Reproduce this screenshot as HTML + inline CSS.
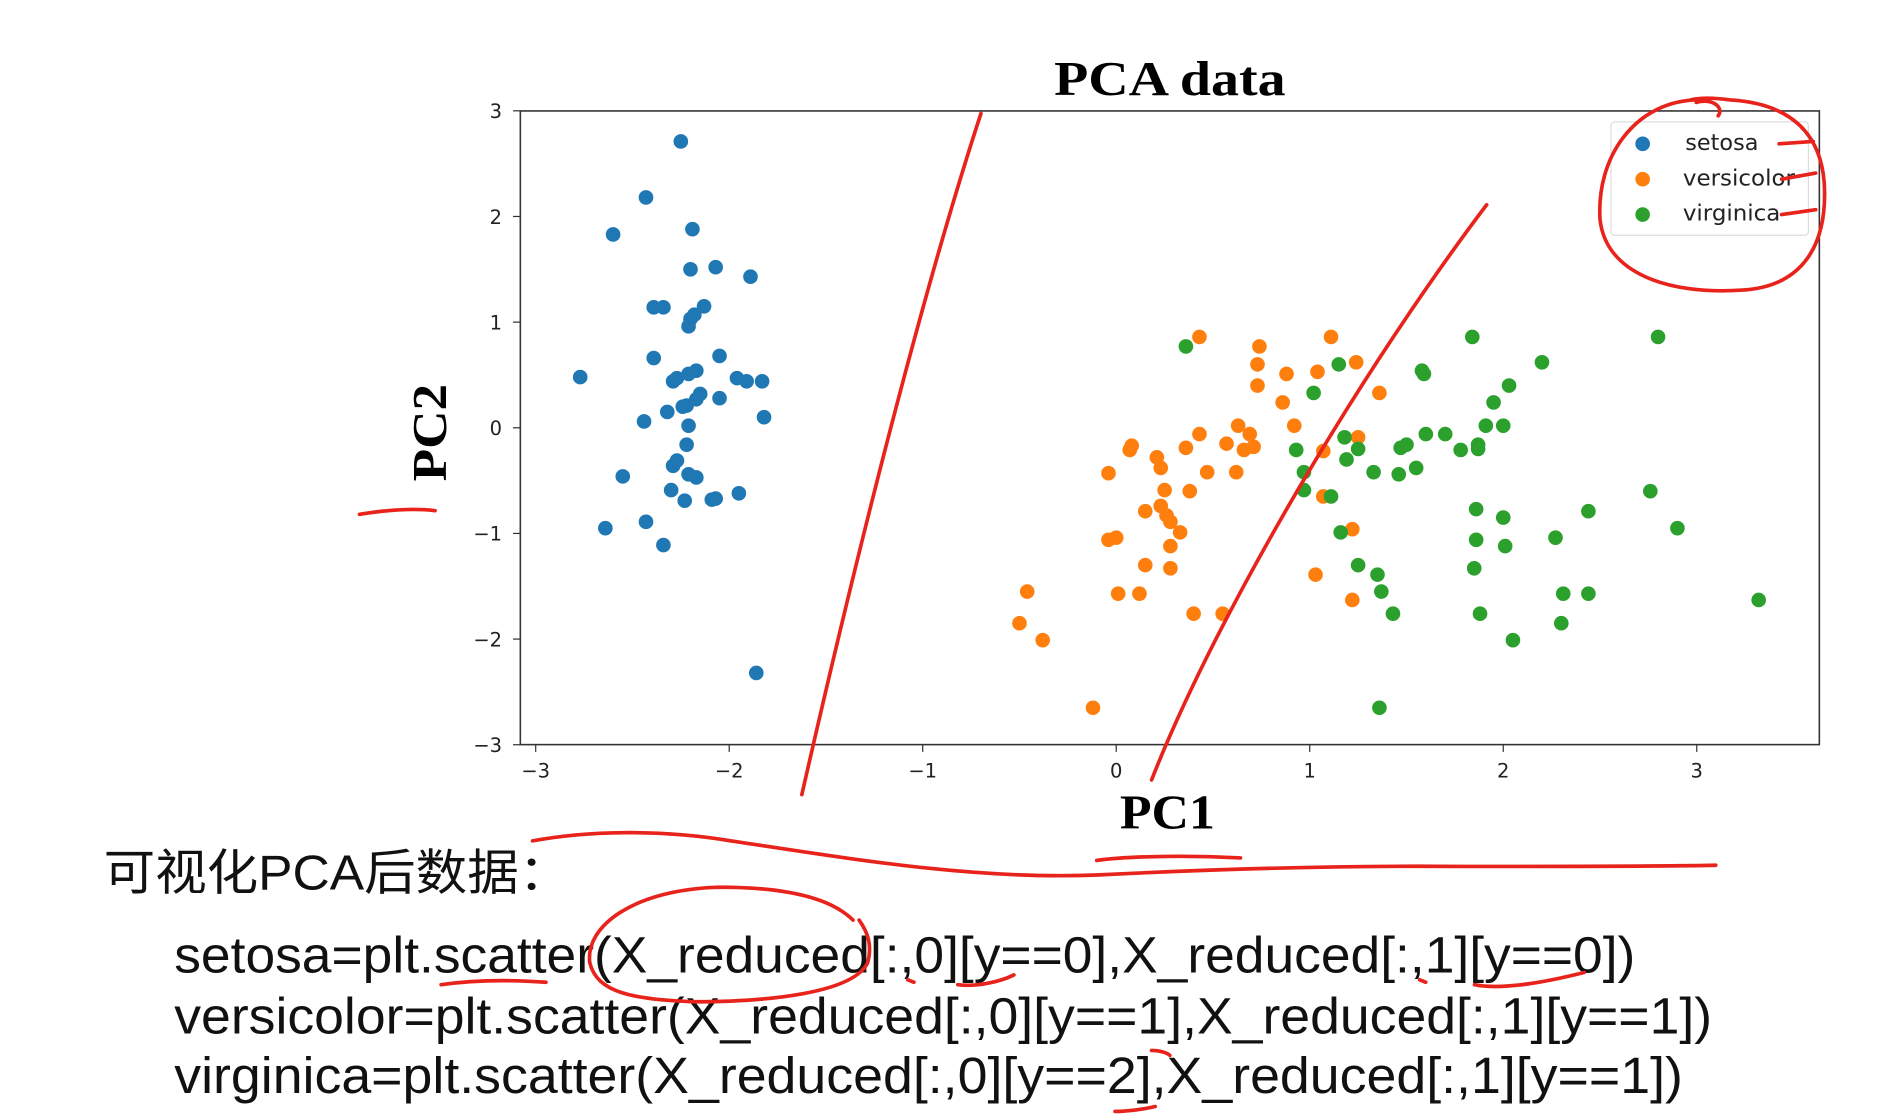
<!DOCTYPE html>
<html><head><meta charset="utf-8"><style>
html,body{margin:0;padding:0;background:#fff;}
svg{display:block;}
</style></head><body>
<svg id="chart" width="1901" height="1120" viewBox="0 0 1560 919" xmlns="http://www.w3.org/2000/svg">
<rect x="0" y="0" width="1560" height="919" fill="#fff"/>
<text x="960" y="78" text-anchor="middle" font-family="Liberation Serif, serif" font-weight="bold" font-size="40" textLength="190" lengthAdjust="spacingAndGlyphs">PCA data</text>
<g id="ticks"></g>
<g id="points"></g>
<rect x="427" y="91" width="1066" height="520" fill="none" stroke="#333" stroke-width="1.3"/>
<text x="958" y="680" text-anchor="middle" font-family="Liberation Serif, serif" font-weight="bold" font-size="40" textLength="78" lengthAdjust="spacingAndGlyphs">PC1</text>
<text transform="translate(366,355) rotate(-90)" text-anchor="middle" font-family="Liberation Serif, serif" font-weight="bold" font-size="40" textLength="80" lengthAdjust="spacingAndGlyphs">PC2</text>
<g>
<rect x="1322" y="100" width="162" height="93" rx="3" fill="#fff" stroke="#ddd" stroke-width="1"/>
<circle cx="1348" cy="118" r="6" fill="#1f77b4"/>
<circle cx="1348" cy="147" r="6" fill="#ff7f0e"/>
<circle cx="1348" cy="176" r="6" fill="#2ca02c"/>
<text x="1383" y="123" font-family="DejaVu Sans, sans-serif" font-size="18" fill="#222" textLength="60" lengthAdjust="spacingAndGlyphs">setosa</text>
<text x="1381" y="152" font-family="DejaVu Sans, sans-serif" font-size="18" fill="#222" textLength="92" lengthAdjust="spacingAndGlyphs">versicolor</text>
<text x="1381" y="181" font-family="DejaVu Sans, sans-serif" font-size="18" fill="#222" textLength="80" lengthAdjust="spacingAndGlyphs">virginica</text>
</g>
<text x="85" y="730" font-family="Liberation Sans, Noto Sans CJK SC, sans-serif" font-size="40" fill="#111" textLength="383" lengthAdjust="spacingAndGlyphs">可视化PCA后数据：</text>
<text x="143" y="798" font-family="Liberation Sans, sans-serif" font-size="42" fill="#111" textLength="1199" lengthAdjust="spacingAndGlyphs">setosa=plt.scatter(X_reduced[:,0][y==0],X_reduced[:,1][y==0])</text>
<text x="143" y="848" font-family="Liberation Sans, sans-serif" font-size="42" fill="#111" textLength="1262" lengthAdjust="spacingAndGlyphs">versicolor=plt.scatter(X_reduced[:,0][y==1],X_reduced[:,1][y==1])</text>
<text x="143" y="897" font-family="Liberation Sans, sans-serif" font-size="42" fill="#111" textLength="1238" lengthAdjust="spacingAndGlyphs">virginica=plt.scatter(X_reduced[:,0][y==2],X_reduced[:,1][y==1])</text>
<g fill="none" stroke="#e8231b" stroke-width="3" stroke-linecap="round">
<path d="M805,93 C770,200 720,380 658,652"/>
<path d="M1220,168 C1120,300 1000,500 945,640"/>
<path d="M1390,82 C1340,85 1310,130 1313,180 C1318,225 1370,242 1430,238 C1480,235 1500,200 1497,150 C1494,110 1470,85 1420,82 C1405,80 1395,80 1387,82"/>
<path d="M1410,95 C1415,88 1405,80 1392,84"/>
<path d="M1460,118 L1488,116 M1462,147 L1490,142 M1462,176 L1490,172"/>
<path d="M295,422 C320,418 340,417 357,419"/>
<path d="M437,690 C480,682 540,680 600,690 C700,705 800,722 900,718 C1000,713 1100,710 1200,711 C1300,711 1360,711 1408,710"/>
<path d="M900,706 C930,702 980,702 1018,704"/>
<path d="M700,755 C680,735 640,728 590,728 C520,730 480,760 484,790 C490,815 520,820 570,822 C630,822 700,815 712,790 C716,775 712,765 705,755"/>
<path d="M362,808 C390,804 420,804 448,806"/>
<path d="M745,804 L750,806 M786,808 C800,810 820,806 832,800"/>
<path d="M1165,804 L1170,806 M1210,808 C1230,812 1260,808 1300,798"/>
<path d="M945,862 C952,862 958,864 960,866 M915,912 C925,912 940,910 948,908"/>
</g>
</svg>
<script>
// chart data (PC1, PC2 values)
const xTicks = [-3,-2,-1,0,1,2,3];
const yTicks = [3,2,1,0,-1,-2,-3];
const tickLabels = ['\u22123','\u22122','\u22121','0','1','2','3'];
const seriesNames = ['setosa','versicolor','virginica'];
const setosaX = [-2.25,-2.43,-2.60,-2.19,-2.20,-2.07,-1.89,-2.39,-2.34,-2.13,-2.20,-2.18,-2.21,-2.39,-2.05,-2.77,-2.17,-2.21,-2.27,-2.29,-1.96,-1.91,-1.83,-2.15,-2.17,-2.22,-2.24,-2.05,-2.32,-1.82,-2.21,-2.44,-2.22,-2.27,-2.29,-2.55,-2.21,-2.17,-2.30,-2.23,-2.07,-2.09,-1.95,-2.43,-2.64,-2.34,-1.86];
const setosaY = [2.71,2.18,1.83,1.88,1.50,1.52,1.43,1.14,1.14,1.15,1.03,1.07,0.96,0.66,0.68,0.48,0.54,0.51,0.47,0.44,0.47,0.44,0.44,0.32,0.27,0.21,0.20,0.28,0.15,0.10,0.02,0.06,-0.16,-0.31,-0.36,-0.46,-0.44,-0.47,-0.59,-0.69,-0.67,-0.68,-0.62,-0.89,-0.95,-1.11,-2.32];
const versicolorX = [0.43,0.74,1.11,0.73,1.24,0.88,1.04,0.73,1.36,0.86,0.63,0.92,0.43,0.69,1.25,0.08,0.07,0.36,0.57,0.66,0.71,1.07,0.21,0.23,0.47,0.62,-0.04,0.25,0.38,1.07,0.23,0.15,0.26,0.28,0.33,1.22,0.00,-0.04,0.28,0.15,0.28,1.03,-0.46,0.01,0.12,1.22,0.40,0.55,-0.50,-0.38,-0.12];
const versicolorY = [0.86,0.77,0.86,0.60,0.62,0.51,0.53,0.40,0.33,0.24,0.02,0.02,-0.06,-0.06,-0.09,-0.17,-0.21,-0.19,-0.15,-0.21,-0.18,-0.22,-0.28,-0.38,-0.42,-0.42,-0.43,-0.59,-0.60,-0.65,-0.74,-0.79,-0.83,-0.89,-0.99,-0.96,-1.04,-1.06,-1.12,-1.30,-1.33,-1.39,-1.55,-1.57,-1.57,-1.63,-1.76,-1.76,-1.85,-2.01,-2.65];
const virginicaX = [0.36,1.84,2.80,2.20,1.15,1.58,1.59,2.03,1.95,1.02,1.91,2.00,1.70,1.60,1.18,1.25,1.47,1.50,1.78,1.87,1.87,0.93,1.19,0.97,1.33,1.46,1.55,0.97,1.11,2.76,1.86,2.44,2.00,2.90,1.16,2.27,1.86,2.01,1.25,1.85,1.35,1.37,2.31,2.44,3.32,1.43,1.88,2.30,2.05,1.36];
const virginicaY = [0.77,0.86,0.86,0.62,0.60,0.54,0.51,0.40,0.24,0.33,0.02,0.02,-0.06,-0.06,-0.09,-0.20,-0.19,-0.16,-0.21,-0.20,-0.16,-0.21,-0.30,-0.42,-0.42,-0.44,-0.38,-0.59,-0.65,-0.60,-0.77,-0.79,-0.85,-0.95,-0.99,-1.04,-1.06,-1.12,-1.30,-1.33,-1.39,-1.55,-1.57,-1.57,-1.63,-1.76,-1.76,-1.85,-2.01,-2.65];
const colors = ['#1f77b4','#ff7f0e','#2ca02c'];

const NS = 'http://www.w3.org/2000/svg';
function sx(v){ return 916 + v * 158.8; }
function sy(v){ return 351 - v * 86.7; }

const tg = document.getElementById('ticks');
xTicks.forEach(function(t,i){
  const l = document.createElementNS(NS,'line');
  l.setAttribute('x1',sx(t)); l.setAttribute('x2',sx(t));
  l.setAttribute('y1',611); l.setAttribute('y2',617);
  l.setAttribute('stroke','#333');
  
  
  tg.appendChild(l);
  const tx = document.createElementNS(NS,'text');
  tx.setAttribute('x',sx(t)); tx.setAttribute('y',638);
  tx.setAttribute('text-anchor','middle');
  tx.setAttribute('font-family','DejaVu Sans, sans-serif');
  tx.setAttribute('font-size','16'); tx.setAttribute('fill','#222');
  tx.textContent = tickLabels[i];
  
  
  tg.appendChild(tx);
});
yTicks.forEach(function(t){
  const l = document.createElementNS(NS,'line');
  l.setAttribute('x1',421); l.setAttribute('x2',427);
  l.setAttribute('y1',sy(t)); l.setAttribute('y2',sy(t));
  l.setAttribute('stroke','#333');
  
  
  tg.appendChild(l);
  const tx = document.createElementNS(NS,'text');
  tx.setAttribute('x',412); tx.setAttribute('y',sy(t)+6);
  tx.setAttribute('text-anchor','end');
  tx.setAttribute('font-family','DejaVu Sans, sans-serif');
  tx.setAttribute('font-size','16'); tx.setAttribute('fill','#222');
  tx.textContent = tickLabels[xTicks.indexOf(t)];
  
  
  tg.appendChild(tx);
});

const pg = document.getElementById('points');
const allX = [setosaX, versicolorX, virginicaX];
const allY = [setosaY, versicolorY, virginicaY];
allX.forEach(function(xs,s){
  xs.forEach(function(xv,i){
    const c = document.createElementNS(NS,'circle');
    c.setAttribute('cx', sx(xv));
    c.setAttribute('cy', sy(allY[s][i]));
    c.setAttribute('r', 6);
    c.setAttribute('fill', colors[s]);
    
    
    pg.appendChild(c);
  });
});
</script>
</body></html>
